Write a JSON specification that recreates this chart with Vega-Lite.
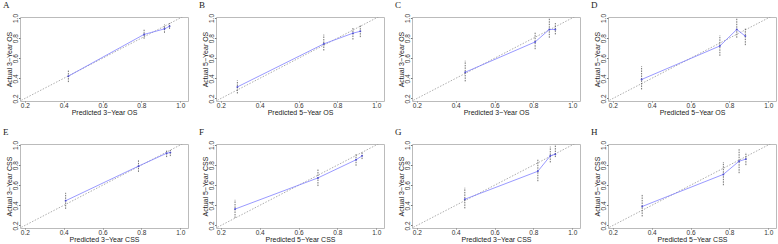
{
"$schema": "https://vega.github.io/schema/vega-lite/v6.json",
"padding": {"left": 2, "top": 0, "right": 0, "bottom": 0},
"background": "white",
"config": {
  "view": {"stroke": "#bbbbbb", "strokeWidth": 1},
  "font": "Liberation Sans",
  "axis": {"grid": false, "domain": false, "tickSize": 1.5, "tickColor": "#777", "labelFontSize": 6.5, "labelColor": "#333", "titleFontSize": 7, "titleFontWeight": "normal", "titleColor": "#222", "labelPadding": 0, "titlePadding": 0.5},
  "axisX": {"tickSize": 1, "labelPadding": 0, "titlePadding": 0},
  "axisY": {"labelAngle": 270},
  "title": {"anchor": "start", "frame": "group", "font": "Liberation Serif", "fontSize": 9, "fontWeight": "normal", "dx": -17, "offset": 3, "color": "#222"}
},
"datasets": {
  "cal": [
    {"panel": "A", "pred": 0.424, "obs": 0.422, "lo": 0.363, "hi": 0.484},
    {"panel": "A", "pred": 0.814, "obs": 0.837, "lo": 0.794, "hi": 0.886},
    {"panel": "A", "pred": 0.919, "obs": 0.892, "lo": 0.853, "hi": 0.935},
    {"panel": "A", "pred": 0.945, "obs": 0.918, "lo": 0.892, "hi": 0.95},
    {"panel": "B", "pred": 0.285, "obs": 0.315, "lo": 0.25, "hi": 0.38},
    {"panel": "B", "pred": 0.73, "obs": 0.743, "lo": 0.677, "hi": 0.835},
    {"panel": "B", "pred": 0.88, "obs": 0.849, "lo": 0.786, "hi": 0.908},
    {"panel": "B", "pred": 0.918, "obs": 0.868, "lo": 0.81, "hi": 0.925},
    {"panel": "C", "pred": 0.449, "obs": 0.461, "lo": 0.37, "hi": 0.575},
    {"panel": "C", "pred": 0.809, "obs": 0.762, "lo": 0.69, "hi": 0.86},
    {"panel": "C", "pred": 0.882, "obs": 0.886, "lo": 0.804, "hi": 1.0},
    {"panel": "C", "pred": 0.913, "obs": 0.886, "lo": 0.837, "hi": 0.95},
    {"panel": "D", "pred": 0.348, "obs": 0.389, "lo": 0.29, "hi": 0.52},
    {"panel": "D", "pred": 0.751, "obs": 0.722, "lo": 0.624, "hi": 0.827},
    {"panel": "D", "pred": 0.838, "obs": 0.886, "lo": 0.804, "hi": 1.0},
    {"panel": "D", "pred": 0.882, "obs": 0.82, "lo": 0.73, "hi": 0.9},
    {"panel": "E", "pred": 0.41, "obs": 0.446, "lo": 0.365, "hi": 0.525},
    {"panel": "E", "pred": 0.785, "obs": 0.79, "lo": 0.733, "hi": 0.848},
    {"panel": "E", "pred": 0.93, "obs": 0.918, "lo": 0.88, "hi": 0.944},
    {"panel": "E", "pred": 0.949, "obs": 0.925, "lo": 0.89, "hi": 0.95},
    {"panel": "F", "pred": 0.273, "obs": 0.363, "lo": 0.275, "hi": 0.455},
    {"panel": "F", "pred": 0.7, "obs": 0.673, "lo": 0.592, "hi": 0.76},
    {"panel": "F", "pred": 0.896, "obs": 0.853, "lo": 0.794, "hi": 0.912},
    {"panel": "F", "pred": 0.927, "obs": 0.892, "lo": 0.86, "hi": 0.925},
    {"panel": "G", "pred": 0.447, "obs": 0.461, "lo": 0.37, "hi": 0.575},
    {"panel": "G", "pred": 0.823, "obs": 0.739, "lo": 0.64, "hi": 0.86},
    {"panel": "G", "pred": 0.887, "obs": 0.892, "lo": 0.827, "hi": 0.984},
    {"panel": "G", "pred": 0.913, "obs": 0.909, "lo": 0.88, "hi": 1.0},
    {"panel": "H", "pred": 0.351, "obs": 0.389, "lo": 0.29, "hi": 0.51},
    {"panel": "H", "pred": 0.769, "obs": 0.708, "lo": 0.6, "hi": 0.83},
    {"panel": "H", "pred": 0.85, "obs": 0.839, "lo": 0.72, "hi": 0.96},
    {"panel": "H", "pred": 0.885, "obs": 0.86, "lo": 0.8, "hi": 0.925}
  ],
  "rug": [
    {"panel": "A", "pred": 0.78}, {"panel": "A", "pred": 0.83}, {"panel": "A", "pred": 0.87}, {"panel": "A", "pred": 0.9}, {"panel": "A", "pred": 0.915}, {"panel": "A", "pred": 0.93}, {"panel": "A", "pred": 0.945},
    {"panel": "B", "pred": 0.78}, {"panel": "B", "pred": 0.84}, {"panel": "B", "pred": 0.87}, {"panel": "B", "pred": 0.89}, {"panel": "B", "pred": 0.91}, {"panel": "B", "pred": 0.92},
    {"panel": "C", "pred": 0.8}, {"panel": "C", "pred": 0.85}, {"panel": "C", "pred": 0.87}, {"panel": "C", "pred": 0.885}, {"panel": "C", "pred": 0.9}, {"panel": "C", "pred": 0.91},
    {"panel": "D", "pred": 0.75}, {"panel": "D", "pred": 0.8}, {"panel": "D", "pred": 0.83}, {"panel": "D", "pred": 0.85}, {"panel": "D", "pred": 0.865}, {"panel": "D", "pred": 0.88},
    {"panel": "E", "pred": 0.85}, {"panel": "E", "pred": 0.9}, {"panel": "E", "pred": 0.92}, {"panel": "E", "pred": 0.935}, {"panel": "E", "pred": 0.945}, {"panel": "E", "pred": 0.95},
    {"panel": "F", "pred": 0.8}, {"panel": "F", "pred": 0.86}, {"panel": "F", "pred": 0.89}, {"panel": "F", "pred": 0.905}, {"panel": "F", "pred": 0.92}, {"panel": "F", "pred": 0.93},
    {"panel": "G", "pred": 0.8}, {"panel": "G", "pred": 0.86}, {"panel": "G", "pred": 0.88}, {"panel": "G", "pred": 0.89}, {"panel": "G", "pred": 0.905}, {"panel": "G", "pred": 0.915},
    {"panel": "H", "pred": 0.76}, {"panel": "H", "pred": 0.82}, {"panel": "H", "pred": 0.85}, {"panel": "H", "pred": 0.865}, {"panel": "H", "pred": 0.88}, {"panel": "H", "pred": 0.89}
  ],
  "diag": [{"pred": 0.1, "obs": 0.1}, {"pred": 1.1, "obs": 1.1}]
},
"columns": 4,
"bounds": "flush",
"spacing": {"column": 28, "row": 43},
"concat": [
  {"title": "A", "width": 168, "height": 84, "data": {"name": "cal"}, "transform": [{"filter": "datum.panel === 'A'"}],
   "encoding": {
     "x": {"field": "pred", "type": "quantitative", "scale": {"domain": [0.175, 1.04], "nice": false, "zero": false}, "axis": {"title": "Predicted 3−Year OS", "values": [0.2, 0.4, 0.6, 0.8, 1.0], "format": ".1f"}},
     "y": {"field": "obs", "type": "quantitative", "scale": {"domain": [0.175, 1.01], "nice": false, "zero": false}, "axis": {"title": "Actual 3−Year OS", "values": [0.2, 0.4, 0.6, 0.8, 1.0], "format": ".1f"}}},
   "layer": [
     {"data": {"name": "diag"}, "mark": {"type": "line", "clip": true, "color": "#999", "strokeDash": [1.5, 1.5], "strokeWidth": 0.8}},
     {"data": {"name": "rug"}, "transform": [{"filter": "datum.panel === 'A'"}], "mark": {"type": "rule", "color": "#999", "strokeWidth": 0.6}, "encoding": {"y": {"datum": 1.01}, "y2": {"datum": 0.985}}},
     {"mark": {"type": "rule", "color": "#333", "strokeDash": [1.5, 1], "strokeWidth": 0.7}, "encoding": {"y": {"field": "lo", "type": "quantitative"}, "y2": {"field": "hi"}}},
     {"mark": {"type": "line", "color": "#8080ff", "strokeWidth": 0.8}},
     {"mark": {"type": "point", "shape": "circle", "size": 4, "color": "#3333cc", "filled": true}}
   ]},
  {"title": "B", "width": 168, "height": 84, "data": {"name": "cal"}, "transform": [{"filter": "datum.panel === 'B'"}],
   "encoding": {
     "x": {"field": "pred", "type": "quantitative", "scale": {"domain": [0.175, 1.04], "nice": false, "zero": false}, "axis": {"title": "Predicted 5−Year OS", "values": [0.2, 0.4, 0.6, 0.8, 1.0], "format": ".1f"}},
     "y": {"field": "obs", "type": "quantitative", "scale": {"domain": [0.175, 1.01], "nice": false, "zero": false}, "axis": {"title": "Actual 5−Year OS", "values": [0.2, 0.4, 0.6, 0.8, 1.0], "format": ".1f"}}},
   "layer": [
     {"data": {"name": "diag"}, "mark": {"type": "line", "clip": true, "color": "#999", "strokeDash": [1.5, 1.5], "strokeWidth": 0.8}},
     {"data": {"name": "rug"}, "transform": [{"filter": "datum.panel === 'B'"}], "mark": {"type": "rule", "color": "#999", "strokeWidth": 0.6}, "encoding": {"y": {"datum": 1.01}, "y2": {"datum": 0.985}}},
     {"mark": {"type": "rule", "color": "#333", "strokeDash": [1.5, 1], "strokeWidth": 0.7}, "encoding": {"y": {"field": "lo", "type": "quantitative"}, "y2": {"field": "hi"}}},
     {"mark": {"type": "line", "color": "#8080ff", "strokeWidth": 0.8}},
     {"mark": {"type": "point", "shape": "circle", "size": 4, "color": "#3333cc", "filled": true}}
   ]},
  {"title": "C", "width": 168, "height": 84, "data": {"name": "cal"}, "transform": [{"filter": "datum.panel === 'C'"}],
   "encoding": {
     "x": {"field": "pred", "type": "quantitative", "scale": {"domain": [0.175, 1.04], "nice": false, "zero": false}, "axis": {"title": "Predicted 3−Year OS", "values": [0.2, 0.4, 0.6, 0.8, 1.0], "format": ".1f"}},
     "y": {"field": "obs", "type": "quantitative", "scale": {"domain": [0.175, 1.01], "nice": false, "zero": false}, "axis": {"title": "Actual 3−Year OS", "values": [0.2, 0.4, 0.6, 0.8, 1.0], "format": ".1f"}}},
   "layer": [
     {"data": {"name": "diag"}, "mark": {"type": "line", "clip": true, "color": "#999", "strokeDash": [1.5, 1.5], "strokeWidth": 0.8}},
     {"data": {"name": "rug"}, "transform": [{"filter": "datum.panel === 'C'"}], "mark": {"type": "rule", "color": "#999", "strokeWidth": 0.6}, "encoding": {"y": {"datum": 1.01}, "y2": {"datum": 0.985}}},
     {"mark": {"type": "rule", "color": "#333", "strokeDash": [1.5, 1], "strokeWidth": 0.7}, "encoding": {"y": {"field": "lo", "type": "quantitative"}, "y2": {"field": "hi"}}},
     {"mark": {"type": "line", "color": "#8080ff", "strokeWidth": 0.8}},
     {"mark": {"type": "point", "shape": "circle", "size": 4, "color": "#3333cc", "filled": true}}
   ]},
  {"title": "D", "width": 168, "height": 84, "data": {"name": "cal"}, "transform": [{"filter": "datum.panel === 'D'"}],
   "encoding": {
     "x": {"field": "pred", "type": "quantitative", "scale": {"domain": [0.175, 1.04], "nice": false, "zero": false}, "axis": {"title": "Predicted 5−Year OS", "values": [0.2, 0.4, 0.6, 0.8, 1.0], "format": ".1f"}},
     "y": {"field": "obs", "type": "quantitative", "scale": {"domain": [0.175, 1.01], "nice": false, "zero": false}, "axis": {"title": "Actual 5−Year OS", "values": [0.2, 0.4, 0.6, 0.8, 1.0], "format": ".1f"}}},
   "layer": [
     {"data": {"name": "diag"}, "mark": {"type": "line", "clip": true, "color": "#999", "strokeDash": [1.5, 1.5], "strokeWidth": 0.8}},
     {"data": {"name": "rug"}, "transform": [{"filter": "datum.panel === 'D'"}], "mark": {"type": "rule", "color": "#999", "strokeWidth": 0.6}, "encoding": {"y": {"datum": 1.01}, "y2": {"datum": 0.985}}},
     {"mark": {"type": "rule", "color": "#333", "strokeDash": [1.5, 1], "strokeWidth": 0.7}, "encoding": {"y": {"field": "lo", "type": "quantitative"}, "y2": {"field": "hi"}}},
     {"mark": {"type": "line", "color": "#8080ff", "strokeWidth": 0.8}},
     {"mark": {"type": "point", "shape": "circle", "size": 4, "color": "#3333cc", "filled": true}}
   ]},
  {"title": "E", "width": 168, "height": 84, "data": {"name": "cal"}, "transform": [{"filter": "datum.panel === 'E'"}],
   "encoding": {
     "x": {"field": "pred", "type": "quantitative", "scale": {"domain": [0.175, 1.04], "nice": false, "zero": false}, "axis": {"title": "Predicted 3−Year CSS", "values": [0.2, 0.4, 0.6, 0.8, 1.0], "format": ".1f"}},
     "y": {"field": "obs", "type": "quantitative", "scale": {"domain": [0.175, 1.01], "nice": false, "zero": false}, "axis": {"title": "Actual 3−Year CSS", "values": [0.2, 0.4, 0.6, 0.8, 1.0], "format": ".1f"}}},
   "layer": [
     {"data": {"name": "diag"}, "mark": {"type": "line", "clip": true, "color": "#999", "strokeDash": [1.5, 1.5], "strokeWidth": 0.8}},
     {"data": {"name": "rug"}, "transform": [{"filter": "datum.panel === 'E'"}], "mark": {"type": "rule", "color": "#999", "strokeWidth": 0.6}, "encoding": {"y": {"datum": 1.01}, "y2": {"datum": 0.985}}},
     {"mark": {"type": "rule", "color": "#333", "strokeDash": [1.5, 1], "strokeWidth": 0.7}, "encoding": {"y": {"field": "lo", "type": "quantitative"}, "y2": {"field": "hi"}}},
     {"mark": {"type": "line", "color": "#8080ff", "strokeWidth": 0.8}},
     {"mark": {"type": "point", "shape": "circle", "size": 4, "color": "#3333cc", "filled": true}}
   ]},
  {"title": "F", "width": 168, "height": 84, "data": {"name": "cal"}, "transform": [{"filter": "datum.panel === 'F'"}],
   "encoding": {
     "x": {"field": "pred", "type": "quantitative", "scale": {"domain": [0.175, 1.04], "nice": false, "zero": false}, "axis": {"title": "Predicted 5−Year CSS", "values": [0.2, 0.4, 0.6, 0.8, 1.0], "format": ".1f"}},
     "y": {"field": "obs", "type": "quantitative", "scale": {"domain": [0.175, 1.01], "nice": false, "zero": false}, "axis": {"title": "Actual 5−Year CSS", "values": [0.2, 0.4, 0.6, 0.8, 1.0], "format": ".1f"}}},
   "layer": [
     {"data": {"name": "diag"}, "mark": {"type": "line", "clip": true, "color": "#999", "strokeDash": [1.5, 1.5], "strokeWidth": 0.8}},
     {"data": {"name": "rug"}, "transform": [{"filter": "datum.panel === 'F'"}], "mark": {"type": "rule", "color": "#999", "strokeWidth": 0.6}, "encoding": {"y": {"datum": 1.01}, "y2": {"datum": 0.985}}},
     {"mark": {"type": "rule", "color": "#333", "strokeDash": [1.5, 1], "strokeWidth": 0.7}, "encoding": {"y": {"field": "lo", "type": "quantitative"}, "y2": {"field": "hi"}}},
     {"mark": {"type": "line", "color": "#8080ff", "strokeWidth": 0.8}},
     {"mark": {"type": "point", "shape": "circle", "size": 4, "color": "#3333cc", "filled": true}}
   ]},
  {"title": "G", "width": 168, "height": 84, "data": {"name": "cal"}, "transform": [{"filter": "datum.panel === 'G'"}],
   "encoding": {
     "x": {"field": "pred", "type": "quantitative", "scale": {"domain": [0.175, 1.04], "nice": false, "zero": false}, "axis": {"title": "Predicted 3−Year CSS", "values": [0.2, 0.4, 0.6, 0.8, 1.0], "format": ".1f"}},
     "y": {"field": "obs", "type": "quantitative", "scale": {"domain": [0.175, 1.01], "nice": false, "zero": false}, "axis": {"title": "Actual 3−Year CSS", "values": [0.2, 0.4, 0.6, 0.8, 1.0], "format": ".1f"}}},
   "layer": [
     {"data": {"name": "diag"}, "mark": {"type": "line", "clip": true, "color": "#999", "strokeDash": [1.5, 1.5], "strokeWidth": 0.8}},
     {"data": {"name": "rug"}, "transform": [{"filter": "datum.panel === 'G'"}], "mark": {"type": "rule", "color": "#999", "strokeWidth": 0.6}, "encoding": {"y": {"datum": 1.01}, "y2": {"datum": 0.985}}},
     {"mark": {"type": "rule", "color": "#333", "strokeDash": [1.5, 1], "strokeWidth": 0.7}, "encoding": {"y": {"field": "lo", "type": "quantitative"}, "y2": {"field": "hi"}}},
     {"mark": {"type": "line", "color": "#8080ff", "strokeWidth": 0.8}},
     {"mark": {"type": "point", "shape": "circle", "size": 4, "color": "#3333cc", "filled": true}}
   ]},
  {"title": "H", "width": 168, "height": 84, "data": {"name": "cal"}, "transform": [{"filter": "datum.panel === 'H'"}],
   "encoding": {
     "x": {"field": "pred", "type": "quantitative", "scale": {"domain": [0.175, 1.04], "nice": false, "zero": false}, "axis": {"title": "Predicted 5−Year CSS", "values": [0.2, 0.4, 0.6, 0.8, 1.0], "format": ".1f"}},
     "y": {"field": "obs", "type": "quantitative", "scale": {"domain": [0.175, 1.01], "nice": false, "zero": false}, "axis": {"title": "Actual 5−Year CSS", "values": [0.2, 0.4, 0.6, 0.8, 1.0], "format": ".1f"}}},
   "layer": [
     {"data": {"name": "diag"}, "mark": {"type": "line", "clip": true, "color": "#999", "strokeDash": [1.5, 1.5], "strokeWidth": 0.8}},
     {"data": {"name": "rug"}, "transform": [{"filter": "datum.panel === 'H'"}], "mark": {"type": "rule", "color": "#999", "strokeWidth": 0.6}, "encoding": {"y": {"datum": 1.01}, "y2": {"datum": 0.985}}},
     {"mark": {"type": "rule", "color": "#333", "strokeDash": [1.5, 1], "strokeWidth": 0.7}, "encoding": {"y": {"field": "lo", "type": "quantitative"}, "y2": {"field": "hi"}}},
     {"mark": {"type": "line", "color": "#8080ff", "strokeWidth": 0.8}},
     {"mark": {"type": "point", "shape": "circle", "size": 4, "color": "#3333cc", "filled": true}}
   ]}
]
}
